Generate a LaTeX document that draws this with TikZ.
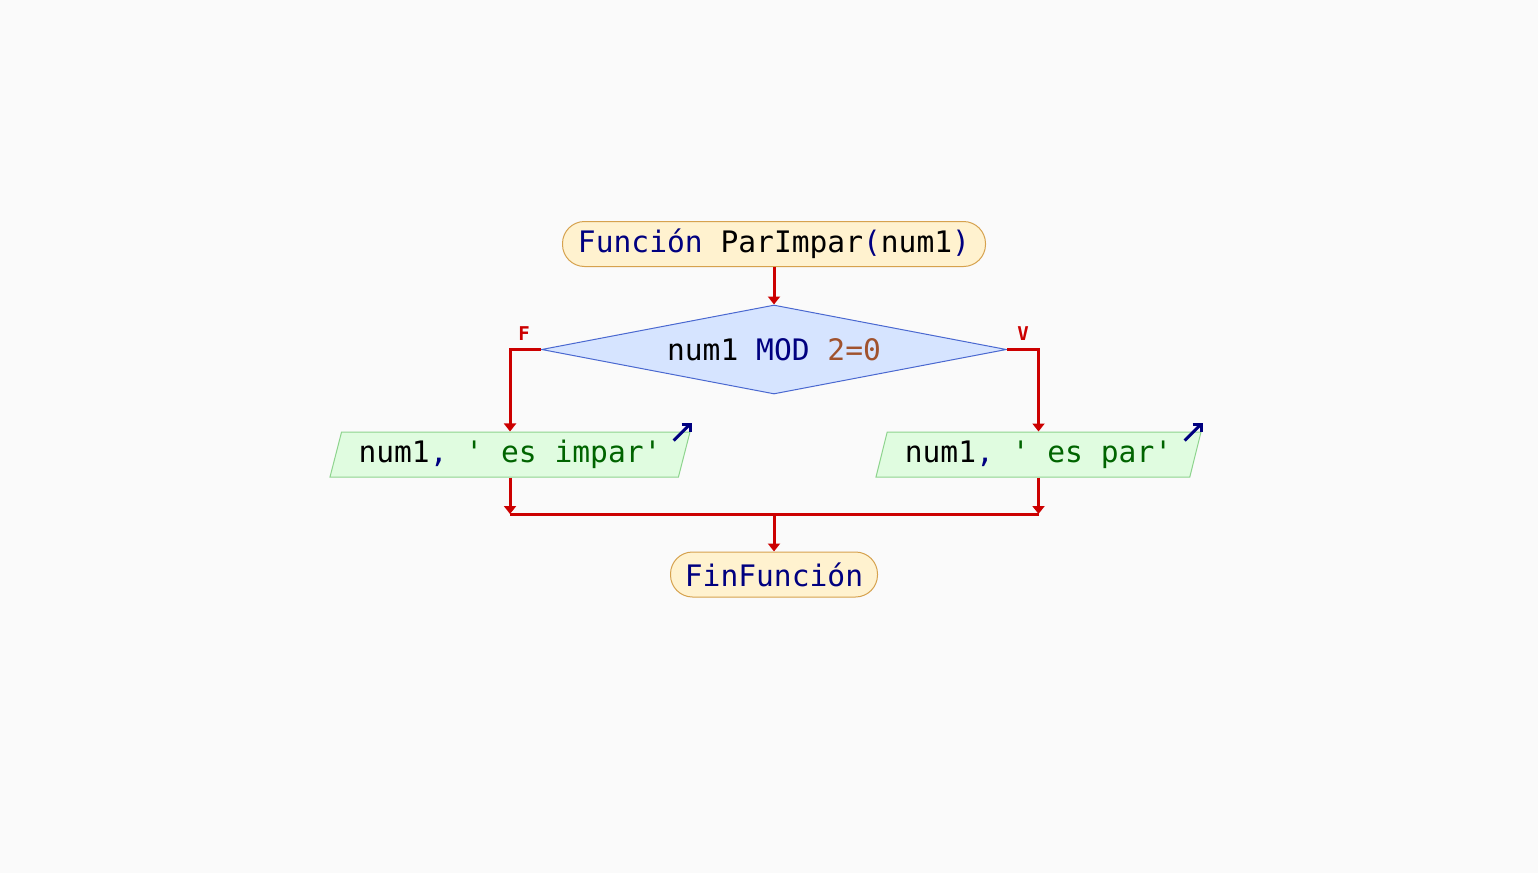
\documentclass[tikz,border=0pt]{standalone}
\usepackage{fontspec}
\setmonofont{DejaVu Sans Mono}
\usepackage{tikz}
\usetikzlibrary{shapes.geometric,arrows.meta}
\definecolor{bgcol}{HTML}{FAFAFA}
\definecolor{termfill}{HTML}{FFF2CF}
\definecolor{termline}{HTML}{D6A24E}
\definecolor{decfill}{HTML}{D6E4FF}
\definecolor{decline}{HTML}{4A68D0}
\definecolor{outfill}{HTML}{E0FCE0}
\definecolor{outline}{HTML}{8ED48E}
\definecolor{flowred}{HTML}{CC0000}
\definecolor{kwnavy}{HTML}{000080}
\definecolor{strgreen}{HTML}{006400}
\definecolor{numbrown}{HTML}{A0522D}
\newcommand{\pscode}{\fontsize{14.8}{18}\selectfont\ttfamily}
\tikzstyle{terminal} = [draw=termline, fill=termfill, line width=0.5pt,
    rectangle, rounded corners=11pt, minimum height=22.5pt, inner sep=0pt, font=\pscode]
\tikzstyle{decision} = [draw=decline, fill=decfill, line width=0.5pt,
    diamond, aspect=5.22, minimum width=232.5pt, minimum height=44.5pt, inner sep=0pt, font=\pscode]
\tikzstyle{outbox} = [draw=outline, fill=outfill, line width=0.5pt,
    trapezium, trapezium left angle=68, trapezium right angle=112, trapezium stretches body,
    minimum width=180pt, minimum height=22.5pt, inner sep=0pt, font=\pscode]
\tikzstyle{flow} = [draw=flowred, line width=1.5pt, -{Triangle[length=4pt,width=6pt]}]
\tikzstyle{joinline} = [draw=flowred, line width=1.5pt]
\tikzstyle{branch} = [text=flowred, font=\fontsize{9.5}{10}\selectfont\ttfamily\bfseries]
\tikzstyle{outicon} = [draw=kwnavy, line width=1.5pt, -{Straight Barb[length=3pt,width=6pt]}]

\begin{document}
\begin{tikzpicture}[x=0.5pt, y=-0.5pt]
    \fill[bgcol] (0,0) rectangle (1538,873);
    \useasboundingbox (0,0) rectangle (1538,873);
    \node[terminal, minimum width=211.5pt] (inicio) at (774,244)
        {\textcolor{kwnavy}{Función} ParImpar\textcolor{kwnavy}{(}num1\textcolor{kwnavy}{)}};
    \node[decision] (cond) at (774,349.5)
        {num1 \textcolor{kwnavy}{MOD} \textcolor{numbrown}{2=0}};
    \node[outbox] (impar) at (510,454.5)
        {num1\textcolor{kwnavy}{,} \textcolor{strgreen}{' es impar'}};
    \node[outbox, minimum width=162.5pt] (par) at (1038.5,454.5)
        {num1\textcolor{kwnavy}{,} \textcolor{strgreen}{' es par'}};
    \node[terminal, minimum width=103.5pt] (fin) at (774,574.5)
        {\textcolor{kwnavy}{FinFunción}};
    \coordinate (union) at (774,514);
    \node[branch] at (524,334) {F};
    \node[branch] at (1023,334) {V};
    \draw[flow] (inicio) -- (cond);
    \draw[flow] (cond.west) -| (impar.north);
    \draw[flow] (cond.east) -| (par.north);
    \draw[flow] (impar.south) -- (impar.south |- union);
    \draw[flow] (par.south) -- (par.south |- union);
    \draw[joinline] (impar.south |- union) -- (par.south |- union);
    \draw[flow] (union) -- (fin);
    \draw[outicon] ([shift={(-17,9)}]impar.top right corner) -- ++(18,-18);
    \draw[outicon] ([shift={(-17,9)}]par.top right corner) -- ++(18,-18);
\end{tikzpicture}
\end{document}
